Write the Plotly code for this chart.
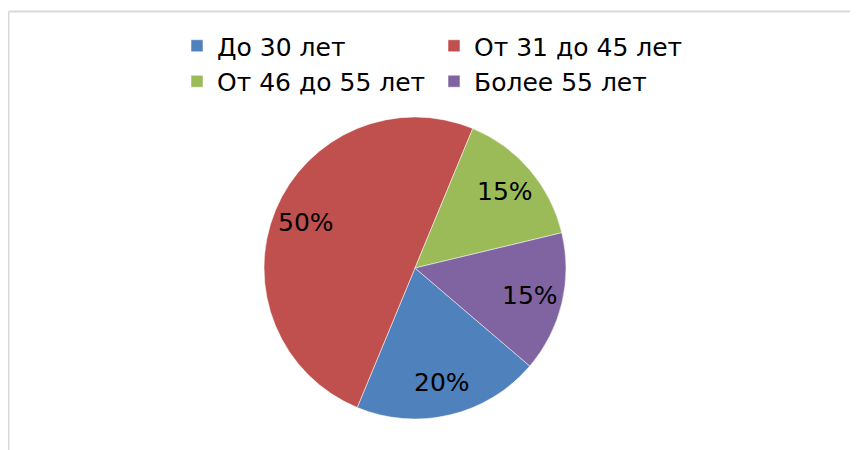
import math
import plotly.graph_objects as go

labels = ["До 30 лет", "От 31 до 45 лет", "От 46 до 55 лет", "Более 55 лет"]
values = [20, 50, 15, 15]
colors = ["#4F81BD", "#C0504D", "#9BBB59", "#8064A2"]
start_angle = 130.5  # degrees clockwise from 12 o'clock where first slice begins

W, H = 858, 450
OFF = 8  # page body margin
L, R, T, B = 150, 150, 0, 0
gw = W - L - R
gh = H - T - B

def px_x(p):
    return (p - OFF - L) / gw

def px_y(p):
    return 1 - (p - OFF - T) / gh

cx, cy, rad = 415, 268, 151
label_r = 0.78

fig = go.Figure(go.Pie(
    labels=labels,
    values=values,
    sort=False,
    direction="clockwise",
    rotation=start_angle,
    marker=dict(colors=colors, line=dict(color="rgba(255,255,255,0.5)", width=1)),
    textinfo="none",
    domain=dict(x=[px_x(cx - rad), px_x(cx + rad)], y=[px_y(cy + rad), px_y(cy - rad)]),
    hoverinfo="label+percent",
))

# percent labels placed along each slice's mid-angle
total = sum(values)
annotations = []
acc = 0.0
for v in values:
    mid = math.radians(start_angle + (acc + v / 2) / total * 360)
    acc += v
    x = cx + label_r * rad * math.sin(mid)
    y = cy - label_r * rad * math.cos(mid)
    annotations.append(dict(
        x=px_x(x), y=px_y(y), xref="paper", yref="paper",
        text=f"{round(v / total * 100)}%", showarrow=False,
        xanchor="center", yanchor="middle",
        font=dict(family="DejaVu Sans", size=25, color="black"),
    ))

fig.update_layout(
    width=W, height=H,
    margin=dict(l=L, r=R, t=T, b=B),
    paper_bgcolor="white",
    plot_bgcolor="white",
    showlegend=True,
    legend=dict(
        orientation="h",
        entrywidth=212,
        entrywidthmode="pixels",
        x=px_x(177), xanchor="left",
        y=px_y(23), yanchor="top",
        font=dict(family="DejaVu Sans", size=25, color="black"),
        itemclick=False,
        tracegroupgap=0,
    ),
    annotations=annotations,
    shapes=[
        dict(type="line", xref="paper", yref="paper",
             x0=px_x(8.5), x1=px_x(880), y0=px_y(11.5), y1=px_y(11.5),
             line=dict(color="#d9d9d9", width=2)),
        dict(type="line", xref="paper", yref="paper",
             x0=px_x(8.5), x1=px_x(8.5), y0=px_y(11.5), y1=px_y(480),
             line=dict(color="#d9d9d9", width=2)),
    ],
)

fig.write_html("out.html")
